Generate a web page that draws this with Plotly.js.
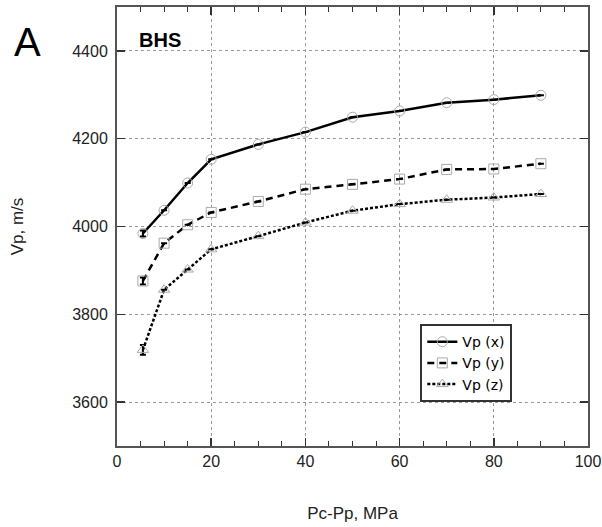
<!DOCTYPE html>
<html>
<head>
<meta charset="utf-8">
<script src="https://cdn.plot.ly/plotly-3.0.1.min.js"></script>
<style>body{margin:0;padding:0;background:#fff}#chart{width:602px;height:527px}</style>
</head>
<body>
<div id="chart"></div>
<script>
const pressure = [5.5, 10, 15, 20, 30, 40, 50, 60, 70, 80, 90];
const vpX = [3984, 4037, 4099, 4153, 4187, 4215, 4249, 4263, 4282, 4289, 4299];
const vpY = [3876, 3962, 4004, 4032, 4057, 4085, 4096, 4108, 4130, 4131, 4143];
const vpZ = [3719, 3856, 3902, 3948, 3978, 4009, 4036, 4051, 4061, 4066, 4074];
const errX = [7, 0, 0, 0, 0, 0, 0, 0, 0, 0, 0];
const errY = [8, 0, 0, 0, 0, 0, 0, 0, 0, 0, 0];
const errZ = [11, 0, 0, 0, 0, 0, 0, 0, 0, 0, 0];
const seriesNames = ['Vp (x)', 'Vp (y)', 'Vp (z)'];

function trace(y, err, name, dash, symbol) {
  return {
    x: pressure, y: y, name: name, type: 'scatter', mode: 'lines+markers',
    line: {color: '#000', width: 2.5, dash: dash},
    marker: {symbol: symbol, size: 10, color: '#aaa', line: {color: '#aaa', width: 1}},
    error_y: {type: 'data', array: err, visible: true, color: '#000', thickness: 2, width: 3}
  };
}
const data = [
  trace(vpX, errX, seriesNames[0], 'solid', 'circle-open'),
  trace(vpY, errY, seriesNames[1], '7px,5px', 'square-open'),
  trace(vpZ, errZ, seriesNames[2], '3px,2px', 'triangle-up-open')
];
const axisFont = {family: 'Liberation Sans, Arial, sans-serif', size: 16, color: '#222'};
const titleFont = {family: 'Liberation Sans, Arial, sans-serif', size: 17, color: '#222'};
const layout = {
  width: 602, height: 527,
  margin: {l: 117, r: 14, t: 7, b: 81},
  paper_bgcolor: '#fff', plot_bgcolor: '#fff',
  showlegend: true,
  legend: {x: 0.644, y: 0.1, xanchor: 'left', yanchor: 'bottom',
    bordercolor: '#333', borderwidth: 2, bgcolor: '#fff',
    font: {family: 'DejaVu Sans, sans-serif', size: 14, color: '#000'},
    tracegroupgap: 0, itemwidth: 30},
  xaxis: {
    range: [0, 100], tickvals: [0, 20, 40, 60, 80, 100],
    ticks: 'inside', ticklen: 8, tickwidth: 1.5, tickcolor: '#333',
    minor: {dtick: 5, ticks: 'inside', ticklen: 5, tickwidth: 1, tickcolor: '#333', showgrid: false},
    showline: true, linecolor: '#555', linewidth: 2, mirror: 'ticks',
    showgrid: true, gridcolor: '#999', griddash: 'dot', gridwidth: 1,
    zeroline: false, tickfont: axisFont,
    title: {text: 'Pc-Pp, MPa', font: titleFont, standoff: 38}
  },
  yaxis: {
    range: [3500, 4500], tickvals: [3600, 3800, 4000, 4200, 4400],
    ticks: 'inside', ticklen: 8, tickwidth: 1.5, tickcolor: '#333',
    showline: true, linecolor: '#555', linewidth: 2, mirror: 'ticks',
    showgrid: true, gridcolor: '#999', griddash: 'dot', gridwidth: 1,
    zeroline: false, tickfont: axisFont, ticklabelstandoff: 4,
    title: {text: 'Vp, m/s', font: titleFont, standoff: 44}
  },
  annotations: [
    {text: 'A', xref: 'paper', yref: 'paper', x: -0.19, y: 0.92, xanchor: 'center', yanchor: 'middle',
     showarrow: false, font: {family: 'Liberation Sans, Arial, sans-serif', size: 40, color: '#000'}},
    {text: '<b>BHS</b>', xref: 'paper', yref: 'paper', x: 0.042, y: 0.925, xanchor: 'left', yanchor: 'middle',
     showarrow: false, font: {family: 'Liberation Sans, Arial, sans-serif', size: 20, color: '#000'}}
  ]
};
Plotly.newPlot('chart', data, layout, {staticPlot: true});
</script>
</body>
</html>
